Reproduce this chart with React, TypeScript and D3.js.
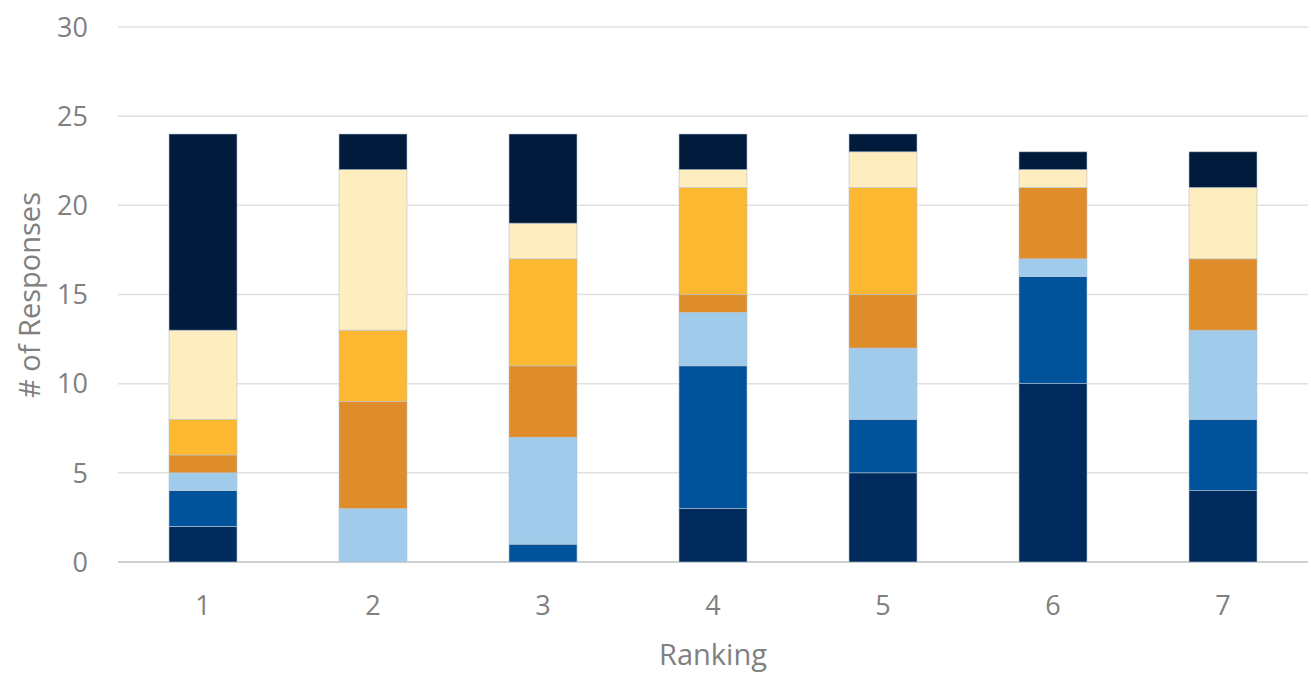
import React from "react";
import * as d3 from "d3";

const categories = ["1", "2", "3", "4", "5", "6", "7"];
const seriesKeys = ["s1", "s2", "s3", "s4", "s5", "s6", "s7"];
const s1 = [2, 0, 0, 3, 5, 10, 4];
const s2 = [2, 0, 1, 8, 3, 6, 4];
const s3 = [1, 3, 6, 3, 4, 1, 5];
const s4 = [1, 6, 4, 1, 3, 4, 4];
const s5 = [2, 4, 6, 6, 6, 0, 0];
const s6 = [5, 9, 2, 1, 2, 1, 4];
const s7 = [11, 2, 5, 2, 1, 1, 2];
const yTicks = [0, 5, 10, 15, 20, 25, 30];
const colors = ["#002b5c", "#00539b", "#a0cbeb", "#df8c2a", "#fcb830", "#feedbe", "#001b3b"];

export default function App() {
  const W = 1311, H = 677;
  const seriesVals = [s1, s2, s3, s4, s5, s6, s7];
  const rows = categories.map((c, i) => {
    const r: any = { cat: c };
    seriesKeys.forEach((k, j) => (r[k] = seriesVals[j][i]));
    return r;
  });
  const stacked = d3.stack().keys(seriesKeys)(rows);
  const x = d3.scaleBand().domain(categories).range([118, 1308]).paddingInner(0.6).paddingOuter(0.3);
  const y = d3.scaleLinear().domain([0, 30]).range([562, 27]);
  const font = "'Open Sans', sans-serif";
  return (
    <svg width={W} height={H} style={{ position: "absolute", left: 0, top: 0, background: "#fff" }}>
      {yTicks.map((t) => (
        <g key={t}>
          <line x1={118} x2={1308} y1={y(t)} y2={y(t)} stroke={t === 0 ? "#d0d0d0" : "#e0e0e0"} strokeWidth={t === 0 ? 2 : 1.5} />
          <text x={88} y={y(t)} dy="0.36em" textAnchor="end" fontFamily={font} fontSize={27} fill="#808080">{t}</text>
        </g>
      ))}
      {stacked.map((s, j) => (
        <g key={s.key} fill={colors[j]}>
          {s.map((d, i) =>
            d[1] - d[0] > 0 ? (
              <rect key={i} x={x(categories[i])} width={x.bandwidth()} y={y(d[1])} height={y(d[0]) - y(d[1])} stroke="#b8c4d2" strokeWidth={0.6} />
            ) : null
          )}
        </g>
      ))}
      {categories.map((c) => (
        <text key={c} x={(x(c) as number) + x.bandwidth() / 2} y={605} dy="0.36em" textAnchor="middle" fontFamily={font} fontSize={27} fill="#808080">{c}</text>
      ))}
      <text x={713} y={665} textAnchor="middle" fontFamily={font} fontSize={29} fill="#808080">Ranking</text>
      <text transform={`translate(40,295) rotate(-90)`} textAnchor="middle" fontFamily={font} fontSize={29} fill="#808080">
        # of Responses
      </text>
    </svg>
  );
}
